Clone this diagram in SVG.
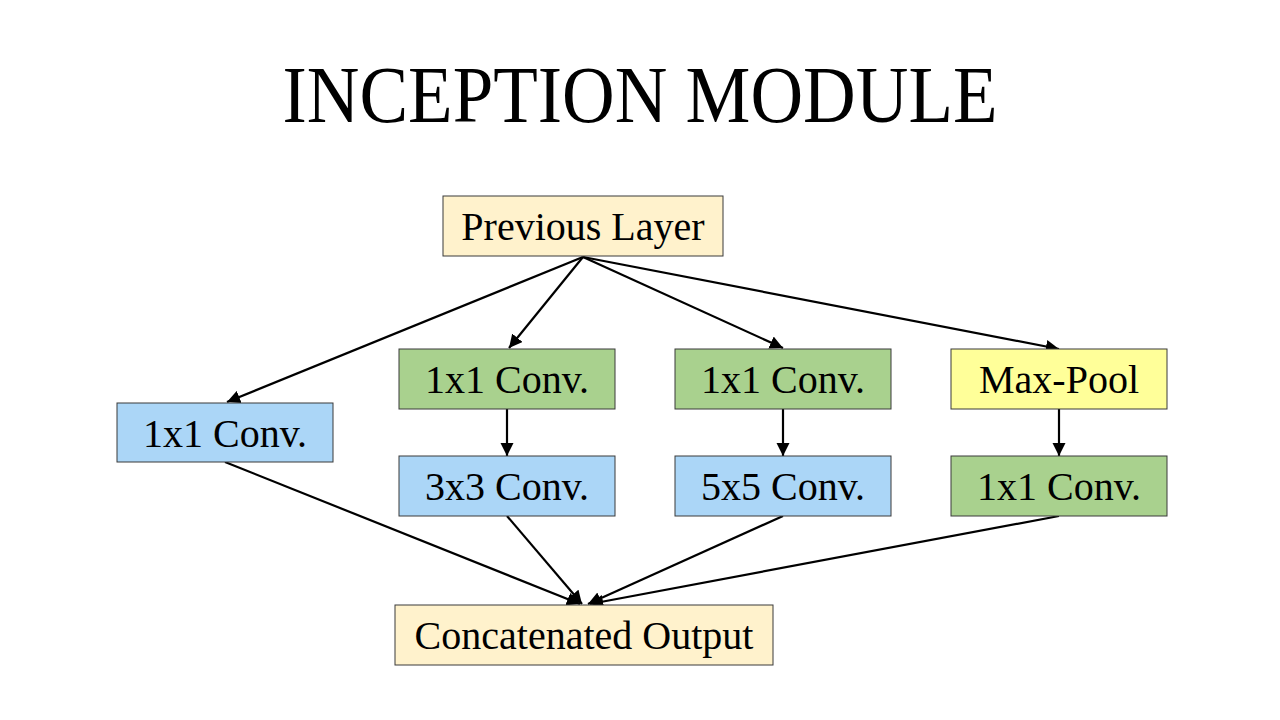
<svg xmlns="http://www.w3.org/2000/svg" width="1280" height="720" viewBox="0 0 1280 720">
<style>
.box{stroke:#3a3a3a;stroke-width:1}
.cream{fill:#FFF2CC}
.blue{fill:#ABD6F7}
.green{fill:#A9D18E}
.yellow{fill:#FFFF99}
.lbl{font-family:"Liberation Serif","Times New Roman",serif;font-size:40px;fill:#000;text-anchor:middle}
.title{font-family:"Liberation Serif","Times New Roman",serif;font-size:80px;fill:#000;text-anchor:middle}
.conn line{stroke:#000;stroke-width:2.2;marker-end:url(#ah)}
</style>
<defs>
<marker id="ah" viewBox="0 0 10 10" refX="10" refY="5" markerWidth="6" markerHeight="6" markerUnits="strokeWidth" orient="auto">
<path d="M0,0 L10,5 L0,10 z" fill="#000"/>
</marker>
</defs>
<rect width="1280" height="720" fill="#fff"/>
<text class="title" x="640" y="122" textLength="715" lengthAdjust="spacingAndGlyphs">INCEPTION MODULE</text>
<g class="conn" id="connectors">
<line x1="583" y1="257" x2="227" y2="402"/>
<line x1="583" y1="257" x2="509" y2="348"/>
<line x1="583" y1="257" x2="783" y2="348"/>
<line x1="583" y1="257" x2="1059" y2="349"/>
<line x1="507" y1="409" x2="507" y2="456"/>
<line x1="783" y1="409" x2="783" y2="456"/>
<line x1="1059" y1="409" x2="1059" y2="456"/>
<line x1="225" y1="462" x2="580" y2="604"/>
<line x1="507" y1="516" x2="582" y2="604"/>
<line x1="783" y1="516" x2="588" y2="604"/>
<line x1="1059" y1="516" x2="590" y2="604"/>
</g>
<g id="prev"><rect class="box cream" x="443" y="196" width="280" height="60"/><text class="lbl" x="583" y="240">Previous Layer</text></g>
<g id="conv1a"><rect class="box blue" x="117" y="403" width="216" height="59"/><text class="lbl" x="225" y="447">1x1 Conv.</text></g>
<g id="conv1b"><rect class="box green" x="399" y="349" width="216" height="60"/><text class="lbl" x="507" y="393">1x1 Conv.</text></g>
<g id="conv3"><rect class="box blue" x="399" y="456" width="216" height="60"/><text class="lbl" x="507" y="500">3x3 Conv.</text></g>
<g id="conv1c"><rect class="box green" x="675" y="349" width="216" height="60"/><text class="lbl" x="783" y="393">1x1 Conv.</text></g>
<g id="conv5"><rect class="box blue" x="675" y="456" width="216" height="60"/><text class="lbl" x="783" y="500">5x5 Conv.</text></g>
<g id="maxpool"><rect class="box yellow" x="951" y="349" width="216" height="60"/><text class="lbl" x="1059" y="393">Max-Pool</text></g>
<g id="conv1d"><rect class="box green" x="951" y="456" width="216" height="60"/><text class="lbl" x="1059" y="500">1x1 Conv.</text></g>
<g id="concat"><rect class="box cream" x="395" y="605" width="378" height="60"/><text class="lbl" x="584" y="649">Concatenated Output</text></g>
</svg>
